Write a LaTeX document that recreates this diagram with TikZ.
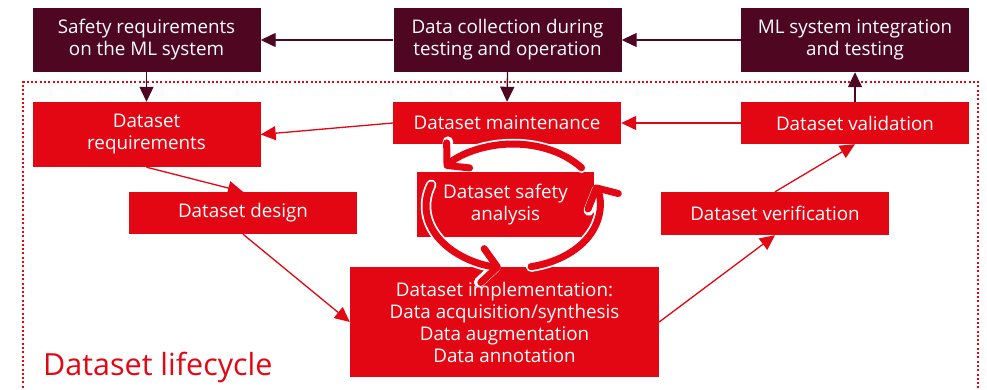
\documentclass[tikz,border=0pt]{standalone}
\usepackage{fontspec}
\setmainfont{Open Sans}
\usetikzlibrary{arrows.meta}
\definecolor{wine}{RGB}{79,6,32}
\definecolor{signal}{RGB}{227,6,19}
\begin{document}
\begin{tikzpicture}[x=1pt,y=-1pt,
  box/.style={text=white, inner sep=0pt, align=center,
    font=\fontsize{18.8}{22}\selectfont},
  darkbox/.style={box, fill=wine},
  redbox/.style={box, fill=signal},
  wide/.style={minimum width=228pt},
  link/.style={line width=1.3pt, -{Triangle[length=15pt,width=14pt]}},
  darklink/.style={link, draw=wine, fill=wine},
  redlink/.style={link, draw=signal, fill=signal},
  frame/.style={draw=signal, line width=2.2pt, dash pattern=on 2pt off 2.3pt},
  cycleout/.style={white, line width=10.5pt, line cap=round,
    -{Straight Barb[length=15pt,width=34pt,round]}},
  cyclein/.style={signal, line width=7pt, line cap=round,
    -{Straight Barb[length=15pt,width=34pt,round]}}
]
\useasboundingbox (0,0) rectangle (987,390);

% dotted frame of the dataset lifecycle (open at the bottom)
\draw[frame] (23,392) -- (23,82) -- (978,82) -- (978,392);

% system-level boxes
\node[darkbox, wide, minimum height=64pt] (sysreq) at (146.5,40) {Safety requirements\\on the ML system};
\node[darkbox, wide, minimum height=64pt] (collect) at (507.5,40) {Data collection during\\testing and operation};
\node[darkbox, wide, minimum height=64pt] (integ) at (855,40) {ML system integration\\and testing};

% lifecycle boxes
\node[redbox, wide, minimum height=65pt] (dreq) at (146.5,134.5) {Dataset\\requirements};
\node[redbox, wide, minimum height=42pt] (maint) at (507,123) {Dataset maintenance};
\node[redbox, wide, minimum height=42pt] (valid) at (855,123) {Dataset validation};
\node[redbox, wide, minimum height=42pt] (design) at (243,213) {Dataset design};
\node[redbox, minimum width=177pt, minimum height=65pt] (safety) at (505.5,204.5) {Dataset safety\\analysis};
\node[redbox, wide, minimum height=43pt] (verif) at (775,213.5) {Dataset verification};
\node[redbox, minimum width=309pt, minimum height=110pt] (impl) at (504.5,322)
  {Dataset implementation:\\Data acquisition/synthesis\\Data augmentation\\Data annotation};

\node[anchor=base west, inner sep=0pt, text=signal, font=\fontsize{30.5}{36}\selectfont]
  (lifecycle) at (43,375) {Dataset lifecycle};

% system-level connectors
\draw[darklink] (collect.west) -- (sysreq.east);
\draw[darklink] (integ.west) -- (collect.east);
\draw[darklink] (sysreq.south) -- (dreq.north);
\draw[darklink] (collect.south) -- (maint.north);
\draw[darklink] (valid.north) -- (integ.south);

% lifecycle connectors
\draw[redlink] (maint.west) -- (dreq.east);
\draw[redlink] (valid.west) -- (maint.east);
\draw[redlink] (dreq.south) -- (design.north);
\draw[redlink] (design.south) -- (impl.west);
\draw[redlink] (impl.east) -- (verif.south);
\draw[redlink] (verif.north) -- (valid.south);

% circular arrows around the safety analysis
\coordinate (cyc) at (513,206);
\foreach \s/\e in {-38/-142, -160/-262, -282/-380} {
  \draw[cycleout] ([shift={(\s:87 and 62)}]cyc) arc[start angle=\s, end angle=\e, x radius=87, y radius=62];
  \draw[cyclein] ([shift={(\s:87 and 62)}]cyc) arc[start angle=\s, end angle=\e, x radius=87, y radius=62];
}
\end{tikzpicture}
\end{document}
